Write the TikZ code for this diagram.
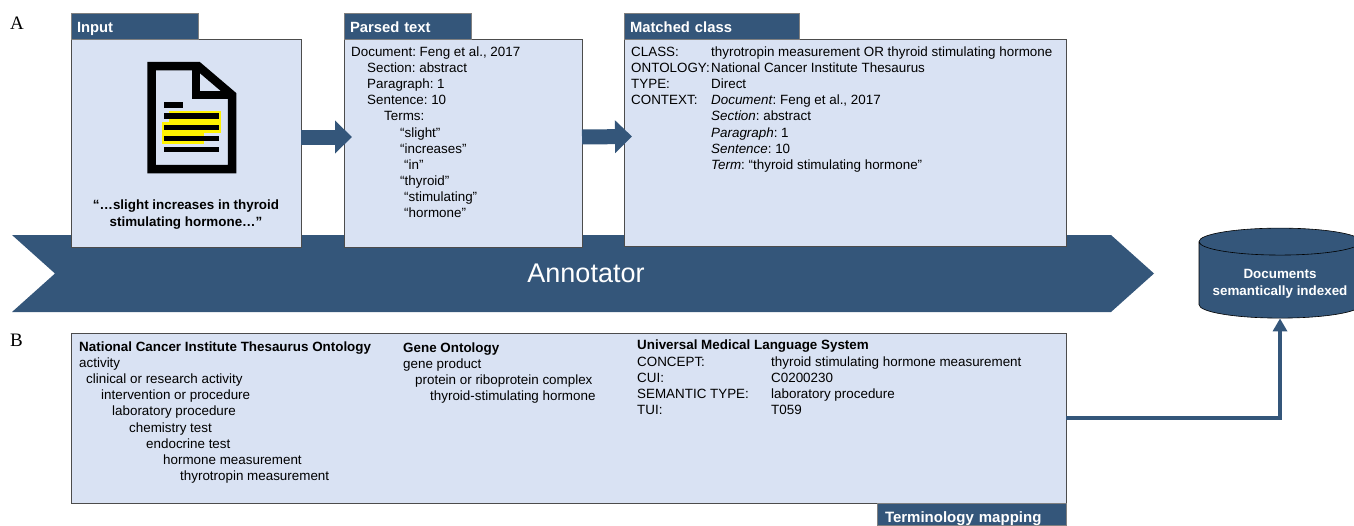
\documentclass[tikz,border=0pt]{standalone}
\usepackage{fontspec}
\setmainfont{Liberation Sans}
\newfontfamily\panelfont{Liberation Serif}
\usetikzlibrary{shapes.geometric,arrows.meta}
\frenchspacing
\definecolor{bannerblue}{HTML}{34567A}
\definecolor{panelblue}{HTML}{D9E2F3}
\tikzset{
  panel/.style={draw=black!70,fill=panelblue,line width=0.7pt,inner sep=0pt,outer sep=0pt,anchor=north west},
  tabbox/.style={draw=black!50,fill=bannerblue,line width=0.7pt,text=white,anchor=south west,outer sep=0pt,
    font=\fontsize{14.8}{16}\selectfont\bfseries,inner xsep=6pt,inner ysep=0pt,minimum height=26pt,
    text height=12pt,text depth=0pt},
  body/.style={anchor=base west,inner sep=0pt,font=\fontsize{13.4}{16}\selectfont},
  bigarrow/.style={draw=bannerblue,line width=15pt,-{Triangle[length=17pt,width=32pt]}},
  flowline/.style={draw=bannerblue,line width=3.6pt,-{Triangle[length=13pt,width=14pt]}},
  bar/.style={line width=5.5pt,black},
}
\begin{document}
\begin{tikzpicture}[x=1pt,y=-1pt]
  \useasboundingbox (0,0) rectangle (1354,525);

  % Annotator banner
  \fill[bannerblue] (12,235) -- (1111,235) -- (1154,273.5) -- (1111,312) -- (12,312) -- (55,273.5) -- cycle;
  \node[text=white,font=\fontsize{27}{30}\selectfont] (annotator) at (586,273) {Annotator};

  % Panel letters
  \node[body,font=\panelfont\fontsize{19}{20}\selectfont] (letterA) at (10,29) {A};
  \node[body,font=\panelfont\fontsize{19}{20}\selectfont] (letterB) at (10,346) {B};

  % Input
  \node[panel,minimum width=230pt,minimum height=208pt] (input) at (71,39) {};
  \node[tabbox,text width=115pt] (inputtab) at (input.north west) {Input};
  \fill[yellow] (169,111) rectangle (221,122);
  \fill[yellow] (162,122) rectangle (221,133);
  \fill[yellow] (162,133) rectangle (204,144);
  \draw[line width=8.5pt,miter limit=10] (151.5,66) -- (198,66) -- (232,95) -- (232,169) -- (151.5,169) -- cycle;
  \draw[line width=8.5pt] (196,64) -- (196,95) -- (234,95);
  \draw[bar] (164,105) -- (183,105);
  \foreach \y in {116,127.5,138.5,149.5} {
    \draw[bar] (164,\y) -- (219,\y);
  }
  \node[align=center,inner sep=0pt,font=\fontsize{13.4}{17}\selectfont\bfseries] (inputquote) at (186,215)
    {“…slight increases in thyroid\\stimulating hormone…”};

  % Parsed text
  \node[panel,minimum width=238pt,minimum height=208pt] (parsed) at (344,39) {};
  \node[tabbox,text width=115pt] (parsedtab) at (parsed.north west) {Parsed text};
  \foreach \x/\y/\t [count=\i] in {351/56/{Document: Feng et al., 2017},367/72/{Section: abstract},
      367/88.5/{Paragraph: 1},367/104.5/{Sentence: 10},384/120.5/{Terms:},400/137/{“slight”},
      400/153/{“increases”},404/169/{“in”},400/185/{“thyroid”},404/201.5/{“stimulating”},404/217.5/{“hormone”}} {
    \node[body] (parsed\i) at (\x,\y) {\t};
  }

  % Matched class
  \node[panel,minimum width=442pt,minimum height=207pt] (matched) at (624,39) {};
  \node[tabbox,text width=163pt] (matchedtab) at (matched.north west) {Matched class};
  \foreach \y/\t [count=\i] in {56/{CLASS:},72/{ONTOLOGY:},88.5/{TYPE:},104.5/{CONTEXT:}} {
    \node[body] (matchedkey\i) at (631,\y) {\t};
  }
  \foreach \y/\t [count=\i] in {56/{thyrotropin measurement OR thyroid stimulating hormone},
      72/{National Cancer Institute Thesaurus},88.5/{Direct},104.5/{\textit{Document}: Feng et al., 2017},
      120.5/{\textit{Section}: abstract},137/{\textit{Paragraph}: 1},153/{\textit{Sentence}: 10},
      169/{\textit{Term}: “thyroid stimulating hormone”}} {
    \node[body] (matchedval\i) at (711,\y) {\t};
  }

  % Arrows between the panels
  \draw[bigarrow] ([yshift=6pt]input.east) -- ([xshift=8pt,yshift=6pt]parsed.west);
  \draw[bigarrow] ([yshift=6pt]parsed.east) -- ([xshift=8pt,yshift=6pt]matched.west);

  % Terminology mapping
  \node[panel,minimum width=995pt,minimum height=170pt] (mapping) at (71,333) {};
  \node[tabbox,anchor=north east,minimum height=22pt,inner xsep=8pt,text width=173pt,text height=16pt,
    font=\fontsize{15}{16}\selectfont\bfseries] (mappingtab) at (mapping.south east) {Terminology mapping};
  \foreach \x/\y/\t [count=\i] in {79/351/{\textbf{National Cancer Institute Thesaurus Ontology}},79/367/{activity},
      86/383.5/{clinical or research activity},101/399.5/{intervention or procedure},112/415.5/{laboratory procedure},
      129/432/{chemistry test},146/448/{endocrine test},163/464/{hormone measurement},180/480/{thyrotropin measurement}} {
    \node[body] (nci\i) at (\x,\y) {\t};
  }
  \foreach \x/\y/\t [count=\i] in {403/352/{\textbf{Gene Ontology}},403/368/{gene product},
      415/384/{protein or riboprotein complex},430/400/{thyroid-stimulating hormone}} {
    \node[body] (gene\i) at (\x,\y) {\t};
  }
  \foreach \x/\y/\t [count=\i] in {637/349/{\textbf{Universal Medical Language System}},637/366/{CONCEPT:},
      637/382/{CUI:},637/398/{SEMANTIC TYPE:},637/414/{TUI:},771/366/{thyroid stimulating hormone measurement},
      771/382/{C0200230},771/398/{laboratory procedure},771/414/{T059}} {
    \node[body] (umls\i) at (\x,\y) {\t};
  }

  % Documents store
  \node[cylinder,shape border rotate=90,aspect=0.2,draw=black,fill=bannerblue,line width=0.6pt,inner sep=0pt,
    minimum width=162pt,minimum height=90pt,text=white,align=center,
    font=\fontsize{13.4}{17}\selectfont\bfseries] (store) at (1280,280) {\rule{0pt}{16pt}Documents\\semantically indexed};
  \draw[flowline] (mapping.east) -| (store.south);
\end{tikzpicture}
\end{document}
